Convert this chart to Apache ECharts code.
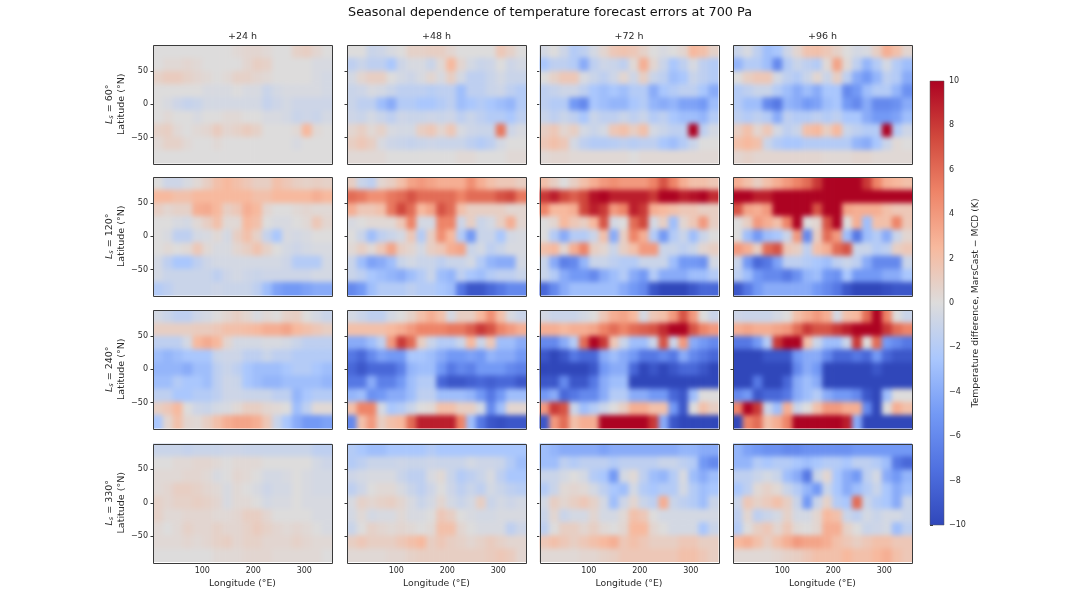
<!DOCTYPE html>
<html><head><meta charset="utf-8">
<script src="https://cdn.jsdelivr.net/npm/echarts@6/dist/echarts.min.js"></script>
<style>html,body{margin:0;background:#fff}#c{width:1069px;height:600px;filter:blur(0.5px)}</style>
</head><body><div id="c"></div>
<script>
const lons=[13,32.5,52,71.5,91,110.5,130,149.5,169,188.5,208,227.5,247,266.5,286,305.5,325,344.5];
const lats=[78.8,59.1,39.4,19.7,0,-19.7,-39.4,-59.1,-78.8];
const lonTicks=[100,200,300];
const latTicks=[-50,0,50];
const leadTitles=['+24 h','+48 h','+72 h','+96 h'];
const seasons=[60,120,240,330];

const ls60_24=[
[0,0,0,0,0,0,0,0,.3,.5,.5,.3,0,0,.8,1,.5,0],
[0,.3,.3,.5,.3,0,0,0,0,.5,1,.8,0,0,0,0,-.3,-.3],
[.8,1.2,1.2,.8,.5,.3,0,.3,.8,.8,.5,.3,0,0,0,0,-.3,-.5],
[0,0,0,0,0,-.3,-.3,-.3,0,-.3,-.3,-1,-.5,-.3,-.3,-.3,-.3,-.5],
[0,-.3,-.8,-1.2,-1,-.5,-.5,-.5,-.5,-.5,-.5,-1.2,-.8,-.5,-.8,-.8,-.8,-.8],
[0,.3,0,0,-.3,0,0,.3,.3,0,0,-.3,-.3,-.5,-1,-.8,-1,-.5],
[.8,1,.3,0,.3,.5,1.2,.5,.8,1.2,.8,0,0,0,.3,2.5,.3,0],
[.3,.8,.8,.3,0,0,.3,0,0,0,0,0,0,0,-.3,0,0,0],
[0,0,0,0,0,0,0,0,0,0,0,0,0,0,0,0,0,0]];
const ls60_48=[
[0,0,-1,-.8,-.3,0,.8,.8,1,1,.5,0,0,0,0,1.5,.8,0],
[-1.5,-1,-1.5,-1.5,-2.5,-.8,-.3,-.3,-1,.3,2.5,.5,-.5,-1,-.8,0,-.8,-.5],
[-.5,.5,1,1,0,-.5,-.8,-.3,.5,-.3,1,-.5,-1.5,-1.5,-1,-.5,-1,-1],
[-1,-.8,-.3,-.5,-1,-1.5,-1.5,-1.5,-1.8,-1.5,-1.5,-3,-1.5,-1.5,-1,-.8,-1.5,-2],
[-1,-1.5,-1.5,-3,-4,-2,-2,-2.5,-2.5,-2,-1.5,-3,-2.5,-2,-2.5,-3,-3.5,-2],
[-.8,-1,-.5,-1,-1.5,-.8,-1,-1,-.8,-1,-.8,-1.5,-1,-1.5,-2,-2,-2.5,-1.5],
[.5,1,.3,.8,-.3,-.5,-.5,1,1.5,.5,1.5,-.3,-.8,-1,-1,5.5,-.8,-.3],
[1,1.5,1,-.3,-.8,-1,-1.2,-1,-.8,-1,-1,-1,-1.5,-2,-1.5,-.5,0,0],
[.3,.3,.3,.3,0,0,0,0,0,0,0,.3,.3,0,0,0,.3,.3]];
const ls60_72=[
[-.5,0,-.8,-2,-1.5,-.5,.5,1.5,1.8,1.5,.8,0,-.3,0,.5,2.5,2,.8],
[-2.5,-1.5,-1.5,-2,-4,-1.5,-.8,-1,-1.5,.3,3,.5,-1,-2.5,-1.5,-.3,-1.5,-2],
[0,.8,1.5,1.5,-.3,-1,-1.5,-.8,.5,-.8,1,-1,-1.5,-3,-2.5,-1,-1.5,-2],
[-1.5,-1.2,-.8,-.8,-1.5,-2.5,-3,-2.5,-3,-2,-2,-4,-2.5,-2,-1.5,-1.5,-2.5,-4],
[-1.5,-2,-2,-5,-6,-2.5,-3,-3.5,-3.5,-2.5,-2,-3.5,-4,-3.5,-4.5,-4.5,-5,-3],
[-1,-1.5,-1,-1.5,-2.5,-1,-1.5,-1.5,-1,-1.5,-1,-2,-1.5,-2.5,-3,-3,-3.5,-2],
[1,1.5,.5,1,-.5,-1,-.5,1.5,2,1,2,-.5,-1,-1.5,-1.5,10,-1.5,-.5],
[1.5,2,1.5,-.5,-1.5,-2,-2,-1.8,-1.5,-1.8,-1.5,-1.5,-2.5,-3,-2,-1,0,0],
[.3,.5,.5,.3,.3,.3,.3,.3,.3,0,.3,.3,.3,.3,.3,.3,.3,.3]];
const ls60_96=[
[-1,-.3,-1.5,-3,-2.5,-.8,.5,1.8,2,1.5,.8,0,-.5,-.3,1,3,2,.5],
[-3.5,-2,-2,-3,-6,-2,-1,-1.5,-2,.3,3.5,.3,-1.5,-3.5,-2,-.5,-2,-3],
[0,1,1.5,1.5,-.5,-1.5,-2,-1,.5,-1,1,-1.5,-4,-5,-3.5,-1.5,-2,-4],
[-2,-1.5,-1,-1,-2,-3,-4,-3,-4,-2.5,-2.5,-6,-5,-3,-2,-2,-3.5,-5.5],
[-2,-3,-3,-6,-7,-3.5,-4,-5,-4.5,-3,-2.5,-5,-6,-4,-6,-6,-5.5,-4],
[-1.5,-2,-1.5,-2,-4,-1.5,-2,-2,-1.5,-2,-1.5,-2.5,-2.5,-4,-5,-5,-4.5,-3],
[1,2,.5,1.5,-.5,-1.5,-1,2,2.5,1,2.5,-1,-1.5,-2,-2,10,-2,-.8],
[2,2.5,2,-1,-2,-2.5,-2.5,-2,-2,-2,-2,-2,-3.5,-4,-2.5,-1,.3,0],
[.5,.8,.5,.5,.5,.5,.5,.5,.5,.3,.3,.3,.5,.5,.3,.3,.3,.3]];

const ls120_24=[
[0,-.8,-.8,-.3,.3,1,2,2.5,2,1.5,1,1,2,1.5,1,.8,1,.8],
[2.5,2.5,2,2,2.5,2.5,2.5,2.5,2.5,2.5,2,2,2.5,2.5,2.5,2.5,3,2.5],
[1,.5,.8,.8,3,3.2,2.5,1,1.5,3,2.5,.5,0,0,.3,.5,.3,.3],
[0,0,-.3,-.5,.3,1,2,.3,.3,2.5,2,0,-.3,-.3,0,.3,1.5,.5],
[0,-.3,-1.5,-1.5,-.5,-.3,.3,-.5,1,2,.8,-1.2,-2.5,-.3,-.5,-.3,0,0],
[0,.3,0,.3,1.5,.3,-.3,-.3,.5,1,1.8,.8,0,-.5,-.8,-.5,-.3,-.3],
[-.5,-1.5,-2.5,-2.5,-1.5,-.8,-.5,-.5,-.5,-.5,-.5,-.5,-.5,-.8,-2,-2,-2,-.5],
[-.5,-1,-1,-1,-1,-1,-1.5,-.8,-.5,-.8,-1,-.8,-.8,-.8,-.8,-.8,-.5,-.5],
[-2,-1.5,-1,-1,-1,-1,-.8,-1,-1,-1,-1.5,-3,-4.5,-5,-5,-4.5,-4,-4]];
const ls120_48=[
[1,-1,-1.5,.5,1,2,3.5,4,3.5,3,3,3,4.5,3,2,1.5,1.5,1],
[6,5.5,4.5,4.5,5.5,6,7,6,6,6,6,5,6,6,6,7,7.5,5.5],
[3,1.5,1.5,2,5.5,7.5,6,2.5,3.5,7,6,2,1,1,1,1,.5,.5],
[-.3,0,.3,.3,.3,1.5,5,-.5,-.5,5,5,-.8,1,-1,-.5,1,3,.5],
[0,-1,-3,-1.5,-1,-.5,1.5,-2,1,4.5,2.5,-2,-5,-1,-1,-2.5,-.5,-.3],
[.3,1,.3,1.5,3.5,1,.5,-.5,1,1.5,3,3.5,-1,-.5,-1.5,-1,-.3,-.3],
[-1,-3,-4.5,-4,-3,-1,-.5,-1,-1,-1.5,-1,-1,-.5,-2,-3.5,-4,-4,-.5],
[-1,-1.5,-2.5,-3,-3.5,-4,-3,-2,-1,-3,-3.5,-1.5,-2.5,-3,-2,-1.5,-1.5,-1],
[-6,-5,-3,-2,-2,-2,-1.5,-2,-2,-2.5,-3,-7,-9,-9,-8,-7,-6,-6]];
const ls120_72=[
[2,1,0,1,2,3,4,4.5,4,4,4,5,7,5,3,2,2,1.5],
[8,9,7.5,6.5,7.5,9.5,10,9,9,9,9,8,10,10,9,9.5,10,8.5],
[5,2.5,2.5,3,7.5,9,8,4,5,9,8,3,2.5,2,1.5,1.5,1,1],
[0,.5,2.5,1.5,1,2.5,7,-.5,0,6,7.5,-.5,1,-3,.5,1.5,4,1],
[0,-2,-4,-2,-2,-1,2,-4,1,5,3,-2,-5,-2,-1,-3,-1,0],
[2,2.5,.5,3,5,1,.5,-1,1,2,4,4,-1,-1,-1.5,-1,.5,1],
[-1,-4,-6.5,-6,-3.5,-1,-1,-1.5,-2,-2,-1,-1,-1,-3,-5,-5,-5.5,-.5],
[-1,-2,-4,-5,-5,-6,-4,-3,-2,-4,-5,-2,-4,-4,-4,-3,-3,-2],
[-8,-6,-4,-3,-3,-3,-3,-3,-4,-5,-6,-9,-10,-10,-10,-9,-8,-8]];
const ls120_96=[
[3,2,1,2,3,4,5,6,8,10,10,10,10,8,5,3,2.5,2],
[10,10,9,9,10,10,10,10,10,10,10,10,10,10,10,10,10,10],
[7,3.5,3,4,10,10,10,10,7,10,10,3.5,3,3,3,2,1.5,1.5],
[0,1,4,3,2,5,10,0,.5,7,10,0,3,-3,2,2,5,1.5],
[0,-3,-5,-3,-2.5,-1,4,-6,1,6,4,-3,-7,-3,-2,-4,-1,.5],
[4,3,1,6,7,1.5,1,-1.5,2,3,6,7,-1,-1,-2,-1.5,1,1.5],
[-1,-5,-8,-7,-4.5,-1.5,-1.5,-2,-2.5,-3,-1.5,-1,-1.5,-4,-6,-6,-6,-1],
[-1.5,-3,-5,-6,-6,-7,-5.5,-3.5,-3,-5,-5.5,-2.5,-5,-5,-5,-4,-4,-2.5],
[-9,-7,-5,-4,-4,-4,-4,-4,-5,-6,-7,-9,-10,-10,-10,-9.5,-9,-9]];

const ls240_24=[
[-.5,-1,-1.5,-1.5,-.8,-.5,0,.5,1,.5,-.3,.3,0,.8,1,0,-.5,-1],
[1,1,1,1,1.2,1.2,1.5,2,2,2.2,2.5,3,3,3.5,2.5,2,1.5,1],
[-1.5,-1.5,-1.5,-.5,2.5,3.2,2.5,.5,-.5,-.5,-.5,-.3,-.3,-.5,-1,-1.5,-1.5,-1.5],
[-3,-3.5,-3,-2.5,-2.5,-2.5,-1,-.8,-.8,-1.5,-1.5,-1,-1.5,-1.5,-2,-2,-2,-2],
[-3.5,-3.5,-3.5,-4,-3,-3,-1.5,-1,-1.5,-2.5,-3,-3,-3,-2.5,-2,-2,-2.5,-3],
[-3,-3,-2,-2.5,-2.5,-3,-1.5,-.8,-1,-2.5,-3,-3.5,-3.5,-3,-3,-3,-3,-3.5],
[-1.5,-1.5,-2.5,-2.5,-2,-2,-1.5,-.8,-.8,-1,-1,-1,-1.5,-1.5,-3.5,-2.5,-2,-2],
[1,1.5,2.5,0,-.8,-1,-.5,-.3,.3,1,1,.5,.3,0,-3,-1.5,.3,.3],
[-2.5,.5,2,.5,.3,1,2,3,3.5,3.5,3,1.5,-1,-2.5,-4,-5,-5,-4.5]];
const ls240_48=[
[-.5,-1,-1.5,-1.5,-.5,0,.8,2,3,2,-.5,1,1,2.5,4.5,2,-.3,-1],
[2,2,2,2,2.5,3,4,5,5,5,5.5,5.5,6.5,8,7,5,4,3],
[-4,-4,-3,-1.5,4,8,6,1,-1,-2,-2,-1,2.5,-1,1.5,-3,-3,-4],
[-7,-8,-6,-4.5,-5,-5,-2.5,-2.5,-3,-4,-5,-5,-4.5,-5,-3.5,-4,-4,-5],
[-8,-9,-8,-8,-8,-6.5,-3.5,-3,-3,-5,-7,-6,-6.5,-5,-5,-5,-6,-6.5],
[-7,-7,-4,-6.5,-6.5,-5,-3,-2,-2,-8,-9,-9,-8.5,-8,-8.5,-8,-8,-9],
[-3.5,-3,-5.5,-5,-4,-4,-3,-1.5,-1.5,-3,-3,-3,-3.5,-5,-7,-5,-3,-3],
[2,5,5,-.5,-2.5,-2,-1,0,.3,2,2,1,1,-.5,-6,-3,.5,.5],
[-6,2,4,1,2,2.5,6,9,9,9,9,5,-3,-7,-9,-9.5,-9,-9]];
const ls240_72=[
[-.5,-1,-1,-1,-.5,0,1.5,3,3.5,2.5,-.5,1.5,2,4,7,4,0,-1],
[3,3,2.5,3,3,3.5,5,6,5,6,6.5,7,8.5,10,10,7,5,4],
[-6,-6,-4,-2,6,10,8,1.5,-1,-3,-3,-1,7,-1,4,-4,-5,-6],
[-9,-10,-9,-7,-8,-8,-4,-3,-4,-5,-7,-7,-6,-7,-4,-6,-7,-8],
[-10,-10,-10,-10,-10,-9,-5,-4,-4,-8,-10,-9,-10,-9,-8,-8,-9,-10],
[-9,-9,-6,-9,-9,-7,-4,-3,-3,-10,-10,-10,-10,-10,-10,-10,-10,-10],
[-5,-4,-8,-7,-6,-6,-4,-2,-2,-4,-4,-5,-5,-8,-9,-3,0,0],
[4,8,7,-1,-3,-2,-1,0,1,3,3,2,2,-5,-9,0,2,1],
[-9,4,6,2,3,3,10,10,10,10,10,8,-4,-9,-10,-10,-10,-10]];
const ls240_96=[
[-.8,-1,-1,-1,-.5,0,2,3,4,3,-.5,2,2.5,6,10,5,0,-1],
[3,3.5,3,3,3.5,4,6,8,7,7,8,9,10,10,10,8,6,5],
[-7,-7,-5,-2,8,10,10,2,-1,-3,-3,-1,8,0,6,-5,-6,-7],
[-10,-10,-10,-9,-9,-9,-5,-4,-4,-6,-8,-8,-7,-8,-5,-8,-9,-9],
[-10,-10,-10,-10,-10,-10,-6,-4,-5,-10,-10,-10,-10,-10,-9,-10,-10,-10],
[-10,-10,-7,-10,-10,-8,-4,-3,-4,-10,-10,-10,-10,-10,-10,-10,-10,-10],
[-6,-5,-9,-8,-8,-7,-4,-3,-2,-4,-5,-5,-6,-9,-10,-3,0,0],
[5,10,8,-1,-3,3,-1,0,2,4,4,3,3,-6,-10,0,3,2],
[-10,5,6,2,3,5,10,10,10,10,10,9,-4,-10,-10,-10,-10,-10]];

const ls330_24=[
[-1,-1,-1,-1.2,-1,-1,-1,-.8,-.8,-1,-1,-1,-1,-1,-1,-1,-1.5,-1.5],
[0,0,.3,.3,.5,.5,.3,0,.3,.3,.3,0,0,0,0,0,-.5,-.8],
[.3,.3,.3,.5,.5,.3,-.3,0,.5,.3,0,-.5,-.5,-.3,0,-.3,-.5,-.5],
[.3,.5,1,1,.8,.5,.3,-.3,.3,0,-.3,-.8,-.5,-.5,0,-.3,-.5,-.5],
[.8,.5,.8,.8,1,.8,.5,-.3,.3,.3,0,-.5,-.3,-.3,0,-.3,-.3,-.3],
[.8,.3,.3,.5,.5,.5,.3,.3,.5,1,1,.5,0,0,0,0,-.3,-.3],
[.3,0,.3,.8,.5,.5,.8,.5,.5,.8,1.2,.8,.5,.3,.5,.3,0,-.3],
[.3,.3,.3,.5,.3,.5,.8,1,.5,.8,.8,.5,.5,.5,.8,.5,.3,.3],
[0,0,0,0,0,0,.3,.3,.3,.5,.5,.5,.3,.3,.3,.3,.3,0]];
const ls330_48=[
[-2,-2.5,-3,-3,-2.5,-2.5,-2.5,-2.5,-2,-2.5,-2.5,-2.5,-2.5,-2.5,-2.5,-2.5,-2.5,-2.5],
[-2,-1.5,-1,-1,-1,-.8,-1,-1,-.8,-1,-1,-1,-.5,-.8,-.8,-1,-2,-3],
[-.8,-.5,-.3,-.3,-.3,-1,-1.5,-1.5,-.3,.3,-1,-2,-1.5,-1,-.3,-1.5,-2.5,-2.5],
[-1.5,-.8,0,.3,.3,-.3,-1,-1.5,-.8,0,-.8,-1.5,-1,-1.5,-.5,-1,-1.5,-1.8],
[-.3,.8,.5,.8,1,.5,-.3,-1,-.5,.5,-.5,-1,-.5,1,-1,-.5,-.8,-.5],
[-.5,.3,-.5,-.3,-.3,.3,-.3,-.3,0,1.5,1,0,-.3,-.5,-.5,-.3,-.3,-.3],
[-1,0,.8,.5,.3,.5,.3,0,.3,2,2,.5,0,-.3,-.3,-.3,-1.5,-.8],
[1,1.5,1,1,1,1.5,2,2.5,1,1.5,1,.8,.5,.8,1.2,.8,.5,.5],
[.3,.3,.3,.3,.5,.5,.8,1,1,1,1,1,1,1,1.2,1.5,1.2,.5]];
const ls330_72=[
[-3,-3.5,-4,-4,-4,-4,-4.5,-4,-4,-4,-4,-4,-4,-4,-3.5,-3.5,-4,-4],
[-3,-3,-1.5,-2,-1.5,-1.5,-1.5,-2,-1.5,-1.5,-1.5,-1.5,-1,-1,-1.5,-2,-5,-6],
[-1,-1,-.5,0,-.5,-2,-2.5,-5,-.5,.3,-1.5,-3,-3.5,-2,-.3,-3,-4,-3],
[-2,-1,.3,.5,.3,-.5,-1.5,-2.5,-3,-.5,-2,-2.5,-2,-2,-.5,-2,-3,-2.5],
[-.5,1,.5,1,1.5,.8,-.5,-3,-.8,.5,-1,-1.5,3,-1,-1.5,-2,-3,-1],
[-1,.5,-1,-.5,-.5,.5,-.5,-.5,.3,2,1.5,0,-.5,-.5,-.5,-.5,-.5,-.5],
[-1.5,0,1,1,.5,1,.3,0,.5,2.5,2.5,.5,0,-.5,-.5,-.5,-2.5,-1],
[1.5,2,1.5,1,1.5,2,2.5,3,1.5,2,1.5,1,1,1,1.5,1.5,1,1],
[.3,.3,.3,.3,.5,.5,.8,1,1.5,1.5,1.5,1.5,1.5,1.5,2,2,1.5,1]];
const ls330_96=[
[-3.5,-4.5,-5,-5.5,-5.5,-6,-6,-5.5,-5.5,-5.5,-5.5,-5.5,-5,-5,-5,-5,-5,-5],
[-3.5,-3.5,-2,-2.5,-2,-2,-2.5,-3,-2.5,-2,-2,-2.5,-1.5,-1.5,-2,-3,-7,-8],
[-1.5,-1.5,-1,-.5,-1,-3,-4,-7,-1,.5,-2.5,-4,-5,-1.5,-.5,-4,-5,-3.5],
[-2.5,-1.5,.3,.8,.3,-1,-2,-3.5,-5,-1,-2.5,-4,-3,-2,-1,-2.5,-4,-3],
[-1,1.5,.8,1.3,2,1,-1,-5,-1,.8,-2,-2.5,6,-1,-2,-2.5,-4,-1],
[-1.5,.5,-1.5,-1,-.5,.8,-.5,-.5,.5,2.5,2,-1,-1.5,-.5,-1,-.5,-.5,-1],
[-2,0,1,1.5,.5,1.5,.3,0,.5,3,3,.8,0,-1,-.8,-.5,-3,-1.5],
[2.5,3,2,1,2,3,4,3.5,3.5,3,2,1.5,1,1.5,2,2,1.5,1.5],
[.3,.3,.3,.3,.5,.8,1,1.5,2,2,2,2.5,2,2,2.5,3,2,1.5]];

const panels=[
 [ls60_24,ls60_48,ls60_72,ls60_96],
 [ls120_24,ls120_48,ls120_72,ls120_96],
 [ls240_24,ls240_48,ls240_72,ls240_96],
 [ls330_24,ls330_48,ls330_72,ls330_96]];

const colX=[153,347,539.5,733], rowY=[45,177,310,443.5], pw=179, ph=118.5;
const ink='#2a2a2a', frame='#3a3a3a', FF='"DejaVu Sans"';
const cellLon=19.6, cellLat=19.8, bleed=7;
const coolwarm=['#3047ba','#4f70e0','#7399f5','#aac7fd','#dddcdc','#f7b99e','#ee8468','#d0473c','#ad0322'];

const grids=[],xAxes=[],yAxes=[],series=[],graphics=[],titles=[];
titles.push({text:'Seasonal dependence of temperature forecast errors at 700 Pa',left:550,top:6,padding:0,textAlign:'center',
  textStyle:{fontFamily:FF,fontSize:12.8,fontWeight:'normal',color:'#111'}});
leadTitles.forEach((t,c)=>titles.push({text:t,left:colX[c]+pw/2,top:32,padding:0,textAlign:'center',
  textStyle:{fontFamily:FF,fontSize:9.5,fontWeight:'normal',color:ink}}));

function renderCell(params,api){
  const p=api.coord([api.value(0),api.value(1)]);
  const s=api.size([cellLon,cellLat]);
  let x0=p[0]-s[0]/2-.3,x1=p[0]+s[0]/2+.3,y0=p[1]-s[1]/2-.3,y1=p[1]+s[1]/2+.3;
  const g=params.coordSys;
  if(api.value(0)===lons[0])x0=g.x-bleed;
  if(api.value(0)===lons[lons.length-1])x1=g.x+g.width+bleed;
  if(api.value(1)===lats[0])y0=g.y-bleed;
  if(api.value(1)===lats[lats.length-1])y1=g.y+g.height+bleed;
  return {type:'rect',shape:{x:x0,y:y0,width:x1-x0,height:y1-y0},style:{fill:api.visual('color')}};
}
panels.forEach((row,r)=>row.forEach((vals,c)=>{
  const i=grids.length;
  grids.push({left:colX[c],top:rowY[r],width:pw,height:ph});
  xAxes.push({gridIndex:i,type:'value',min:3.3,max:354.4,
    axisLine:{show:false},splitLine:{show:false},
    axisTick:{show:true,length:2.5,customValues:lonTicks,lineStyle:{color:frame,width:1}},
    axisLabel:{show:r===3,customValues:lonTicks,fontFamily:FF,fontSize:8,color:ink,margin:5},
    name:r===3?'Longitude (°E)':'',nameLocation:'middle',nameGap:17,
    nameTextStyle:{fontFamily:FF,fontSize:9.3,color:ink}});
  yAxes.push({gridIndex:i,type:'value',min:-88.6,max:88.6,
    axisLine:{show:false},splitLine:{show:false},
    axisTick:{show:true,length:2.5,customValues:latTicks,lineStyle:{color:frame,width:1}},
    axisLabel:{show:c===0,customValues:latTicks,fontFamily:FF,fontSize:8,color:ink,margin:5,
      formatter:v=>String(v).replace('-','\u2212')},
    name:c===0?`{i|L}{s|s}{n| = ${seasons[r]}°}\n{n|Latitude (°N)}`:'',
    nameLocation:'middle',nameGap:25,
    nameTextStyle:{fontFamily:FF,fontSize:9.5,color:ink,lineHeight:12,
      rich:{i:{fontFamily:FF,fontStyle:'italic',fontSize:9.5,color:ink,lineHeight:12},
            s:{fontFamily:FF,fontStyle:'italic',fontSize:6.5,color:ink,verticalAlign:'bottom',lineHeight:12},
            n:{fontFamily:FF,fontSize:9.5,color:ink,lineHeight:12}}}});
  const pts=[];
  vals.forEach((line,j)=>line.forEach((v,k)=>pts.push([lons[k],lats[j],v])));
  series.push({type:'custom',xAxisIndex:i,yAxisIndex:i,renderItem:renderCell,data:pts,zlevel:1,
    encode:{x:0,y:1},silent:true,animation:false});
  graphics.push({type:'rect',zlevel:2,z:100,shape:{x:Math.round(colX[c])+.5,y:Math.round(rowY[r])+.5,width:pw,height:Math.round(ph)},
    style:{fill:'none',stroke:frame,lineWidth:1}});
}));
// colour bar axis and fill
const cb=grids.length, barBox={x:930,y:81,w:14,h:444};
grids.push({left:barBox.x,top:barBox.y,width:barBox.w,height:barBox.h});
xAxes.push({gridIndex:cb,type:'value',show:false,min:0,max:1,axisLine:{show:false},axisTick:{show:false},axisLabel:{show:false},splitLine:{show:false}});
yAxes.push({gridIndex:cb,type:'value',position:'right',min:-10,max:10,interval:2,
  axisLine:{show:false},splitLine:{show:false},
  axisTick:{show:true,length:3,lineStyle:{color:frame}},
  axisLabel:{fontFamily:FF,fontSize:8,color:ink,margin:5,formatter:v=>String(v).replace('-','\u2212')},
  name:'Temperature difference, MarsCast \u2212 MCD (K)',nameLocation:'middle',nameGap:27,nameRotate:90,
  nameTextStyle:{fontFamily:FF,fontSize:9.3,color:ink}});
graphics.push({type:'rect',z:50,shape:{x:barBox.x,y:barBox.y,width:barBox.w,height:barBox.h},
  style:{stroke:'#555',lineWidth:.5,fill:new echarts.graphic.LinearGradient(0,1,0,0,
    coolwarm.map((color,i)=>({offset:i/(coolwarm.length-1),color})))}});

const chart=echarts.init(document.getElementById('c'),null,{renderer:'canvas'});
chart.setOption({animation:false,backgroundColor:'#fff',title:titles,grid:grids,xAxis:xAxes,yAxis:yAxes,series,
  visualMap:{type:'continuous',show:false,min:-10,max:10,dimension:2,seriesIndex:series.map((_,i)=>i),inRange:{color:coolwarm}},
  graphic:graphics});
// soften the field layer only, and keep it inside the panel frames
const holes=[];
colX.forEach(x=>rowY.forEach(y=>holes.push(`M${x} ${y}h${pw}v${ph}h${-pw}z`)));
const layer=document.querySelector('#c canvas[data-zr-dom-id="zr_1"]');
if(layer){layer.style.filter='blur(2.6px)';layer.style.clipPath=`path("${holes.join(' ')}")`;}
</script></body></html>
